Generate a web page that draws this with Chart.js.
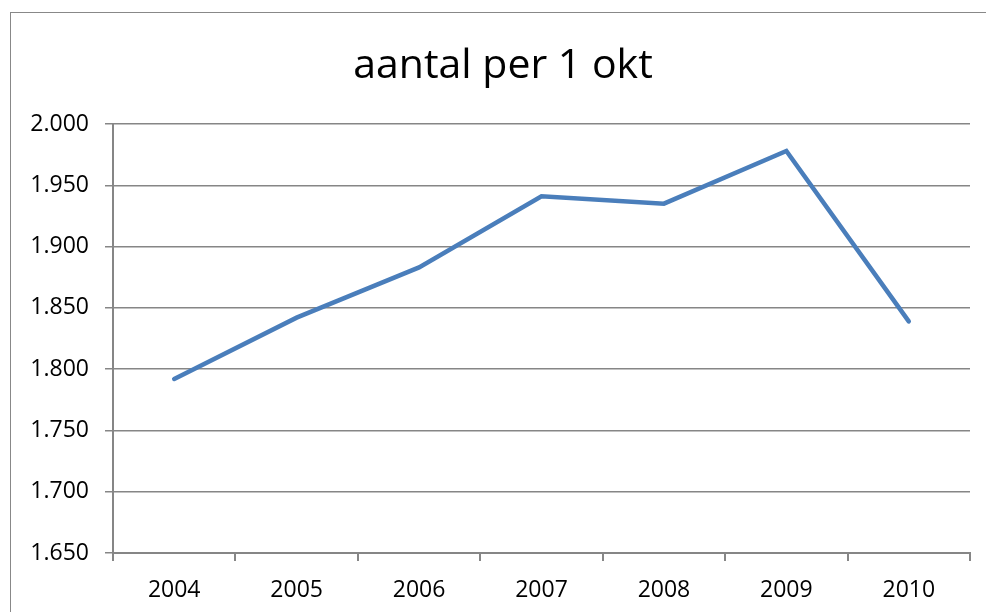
<!DOCTYPE html>
<html>
<head>
<meta charset="utf-8">
<script src="https://cdn.jsdelivr.net/npm/chart.js@4"></script>
<style>
  html, body { margin: 0; padding: 0; background: #fff; }
  #wrap { position: relative; width: 986px; height: 612px; overflow: hidden; }
  #frame { position: absolute; left: 10px; top: 12px; width: 1000px; height: 640px; border: 1px solid #888; }
  #myChart { position: absolute; left: 0; top: 0; }
</style>
</head>
<body>
<div id="wrap">
  <div id="frame"></div>
  <canvas id="myChart" width="986" height="612"></canvas>
</div>
<script>
const ctx = document.getElementById('myChart')

// aantal per 1 oktober
const years = ['2004', '2005', '2006', '2007', '2008', '2009', '2010'];
const aantal = [1792, 1842, 1883, 1941, 1935, 1978, 1839];

const y_min = 1650;
const y_max = 2000;
const y_step = 50;

function fmt_nl(v){
  // 1650 -> "1.650"
  let s = Math.round(v).toString();
  return s.replace(/\B(?=(\d{3})+(?!\d))/g, '.');
}

const font_family = "'Open Sans', 'Noto Sans', sans-serif";

// title is centred on the whole frame, not on the plot
const shiftTitle = {
  id: 'shiftTitle',
  afterLayout(chart){
    if(chart.titleBlock){
      chart.titleBlock.left = 20;
      chart.titleBlock.right = 986;
    }
  }
};

c = new Chart(ctx, {
  type: 'line',
  data: {
    labels: years,
    datasets: [{
      label: 'aantal',
      data: aantal,
      borderColor: '#4a7ebb',
      borderWidth: 4.5,
      borderCapStyle: 'round',
      borderJoinStyle: 'miter',
      pointRadius: 0,
      tension: 0
    }]
  },
  plugins: [shiftTitle],
  options: {
    responsive: false,
    animation: false,
    layout: {
      padding: { left: 0, right: 16, top: 12, bottom: 0 }
    },
    plugins: {
      legend: { display: false },
      tooltip: { enabled: false },
      title: {
        display: true,
        text: 'aantal per 1 okt',
        color: '#000',
        font: { family: font_family, size: 41, weight: 'normal', lineHeight: 1.2 },
        padding: { top: 30, bottom: 32.8 }
      }
    },
    scales: {
      x: {
        offset: true,
        grid: {
          offset: true,
          drawOnChartArea: false,
          drawTicks: true,
          tickLength: 8,
          color: '#868686',
          lineWidth: 2
        },
        border: { color: '#868686', width: 2 },
        ticks: {
          color: '#000',
          padding: 16,
          maxRotation: 0,
          font: { family: font_family, size: 23 }
        },
        afterFit: function(scale){ scale.height = 59; }
      },
      y: {
        min: y_min,
        max: y_max,
        grid: {
          color: '#868686',
          lineWidth: 1.5,
          tickLength: 8
        },
        border: { color: '#868686', width: 2 },
        ticks: {
          stepSize: y_step,
          color: '#000',
          padding: 16,
          font: { family: font_family, size: 23 },
          callback: function(v){ return fmt_nl(v); }
        },
        afterFit: function(scale){ scale.width = 113; }
      }
    }
  }
});
</script>
</body>
</html>
